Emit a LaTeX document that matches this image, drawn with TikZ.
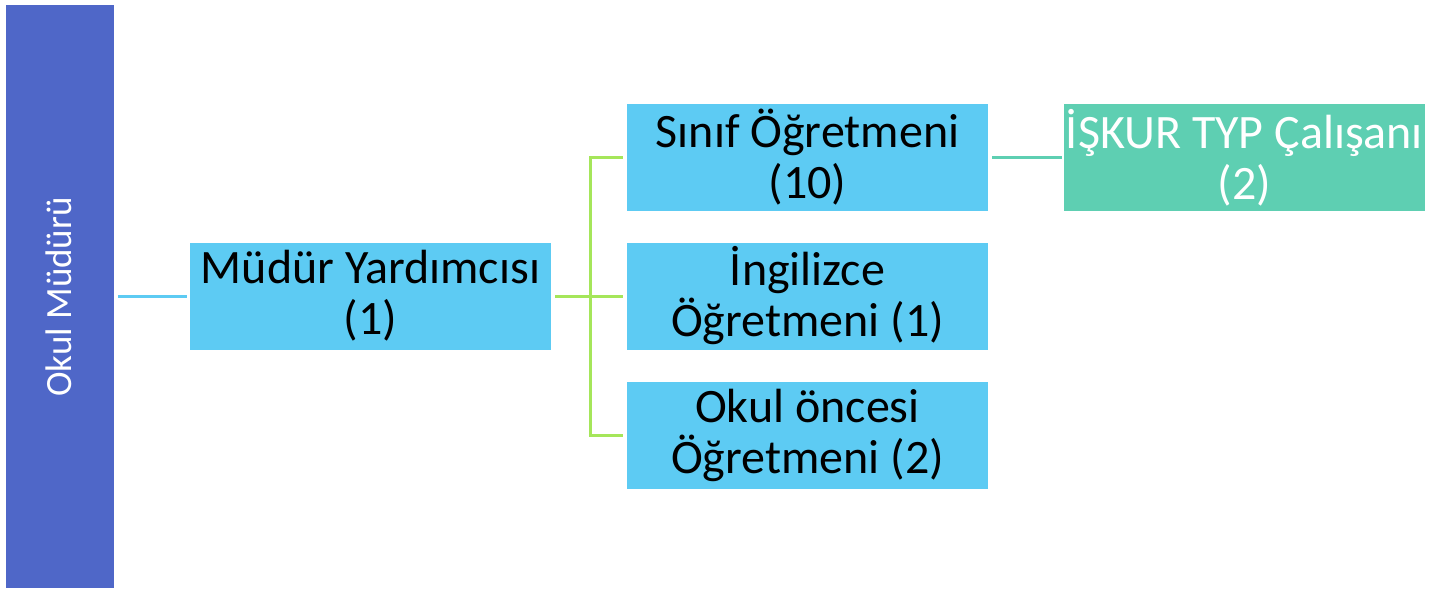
\documentclass[tikz,border=0pt]{standalone}
\usepackage{fontspec}
\setmainfont{Carlito}
\definecolor{darkblue}{HTML}{4F67C8}
\definecolor{lightblue}{HTML}{5DCBF3}
\definecolor{tealc}{HTML}{5ECFB2}
\definecolor{limec}{HTML}{A5E65A}
\begin{document}
\begin{tikzpicture}[x=1pt,y=-1pt,
  box/.style={draw=none, minimum width=361pt, minimum height=107pt, inner sep=0pt, align=center, font=\fontsize{48}{51}\selectfont},
  bluebox/.style={box, fill=lightblue, text=black},
  tealbox/.style={box, fill=tealc, text=white},
  conn/.style={line width=3pt}]
\useasboundingbox (0,0) rectangle (1453,590);
\node[fill=darkblue, minimum width=108pt, minimum height=583pt, inner sep=0pt] (om) at (60,296.5) {};
\node[rotate=90, text=white, font=\fontsize{37}{40}\selectfont] (omt) at (59,297) {Okul Müdürü};
\node[bluebox] (my) at (370.5,296) {Müdür Yardımcısı\\(1)};
\node[bluebox] (sg) at (807.5,157.5) {Sınıf Öğretmeni\\(10)};
\node[bluebox] (ig) at (807.5,296) {İngilizce\\Öğretmeni (1)};
\node[bluebox] (oo) at (807.5,435) {Okul öncesi\\Öğretmeni (2)};
\node[tealbox] (is) at (1244.5,157.5) {İŞKUR TYP Çalışanı\\(2)};
\coordinate (j) at (590,296);
\draw[conn, lightblue, shorten <=4pt, shorten >=3pt] (om.east |- my.west) -- (my.west);
\draw[conn, limec, shorten <=4pt] (my.east) -- (j);
\draw[conn, limec, shorten >=4pt] (j) |- (sg.west);
\draw[conn, limec, shorten >=4pt] (j) |- (oo.west);
\draw[conn, limec, shorten >=4pt] (j) -- (ig.west);
\draw[conn, tealc, shorten <=4pt, shorten >=2pt] (sg.east) -- (is.west);
\end{tikzpicture}
\end{document}
